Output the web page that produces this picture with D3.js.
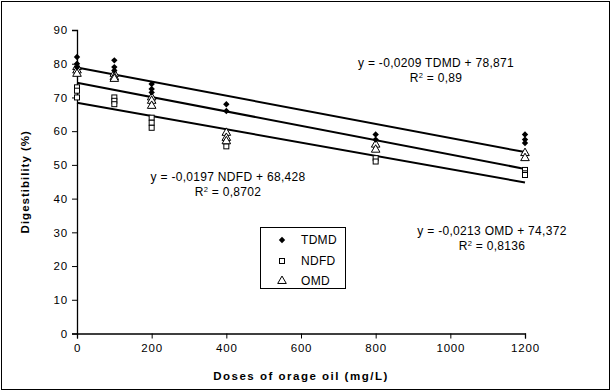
<!DOCTYPE html>
<html>
<head>
<meta charset="utf-8">
<script src="https://cdn.jsdelivr.net/npm/d3@7"></script>
<style>
  html, body { margin: 0; padding: 0; background: #fff; }
  svg { display: block; font-family: "Liberation Sans", Arial, sans-serif; }
</style>
</head>
<body>
<svg id="chart" width="611" height="391"></svg>
<script>
// Digestibility measurements by dose of orange oil (replicates per dose)
const doses = [0, 100, 200, 400, 800, 1200];
const tdmd = [[82, 80, 79], [81, 79, 78], [74, 72.5, 71.5], [68, 66], [59, 57.5], [59, 57.5, 56.5]];
const ndfd = [[73, 72, 70], [70, 69, 68], [64, 62.5, 61], [57, 55.5], [52, 51], [48.5, 47.5, 47]];
const omd  = [[79, 78, 77], [77, 76, 75.5], [70, 69, 67.5], [59.5, 58, 57], [56, 54.5], [53.5, 52]];

// Linear fits (slope, intercept) with their labels
const fits = [
  { name: "TDMD", slope: -0.0209, intercept: 78.871, eq: "y = -0,0209 TDMD + 78,871", r2: "0,89" },
  { name: "NDFD", slope: -0.0197, intercept: 68.428, eq: "y = -0,0197 NDFD + 68,428", r2: "0,8702" },
  { name: "OMD",  slope: -0.0213, intercept: 74.372, eq: "y = -0,0213 OMD + 74,372", r2: "0,8136" }
];

const xTicks = [0, 200, 400, 600, 800, 1000, 1200];
const yTicks = [0, 10, 20, 30, 40, 50, 60, 70, 80, 90];

const svg = d3.select("#chart");
const W = 611, H = 391;

// outer frame
svg.append("rect").attr("x", 1.5).attr("y", 1.5).attr("width", W - 3).attr("height", H - 3)
  .attr("fill", "none").attr("stroke", "#000").attr("stroke-width", 1);

const x = d3.scaleLinear().domain([0, 1200]).range([77, 525]);
const y = d3.scaleLinear().domain([0, 90]).range([333.5, 30]);

// axes
const xAxis = d3.axisBottom(x).tickValues(xTicks).tickSize(5).tickPadding(5).tickFormat(d3.format("d"));
const yAxis = d3.axisLeft(y).tickValues(yTicks).tickSize(5).tickPadding(4).tickFormat(d3.format("d"));

const gx = svg.append("g").attr("transform", `translate(0,${y(0)})`).call(xAxis);
const gy = svg.append("g").attr("transform", `translate(${x(0)},0)`).call(yAxis);
[gx, gy].forEach(g => {
  g.selectAll("path").attr("stroke", "#000").attr("stroke-width", 1.3);
  g.selectAll("line").attr("stroke", "#000").attr("stroke-width", 1);
  g.selectAll("text").attr("fill", "#000").attr("font-size", 11.5).attr("letter-spacing", 0.8)
    .attr("font-family", "Liberation Sans, Arial, sans-serif");
});

// axis titles
svg.append("text").attr("x", (x(0) + x(1200)) / 2).attr("y", 380)
  .attr("text-anchor", "middle").attr("font-size", 11.5).attr("font-weight", "bold")
  .attr("letter-spacing", 1.5)
  .text("Doses of orage oil (mg/L)");
svg.append("text").attr("transform", `translate(29,${(y(0) + y(90)) / 2}) rotate(-90)`)
  .attr("text-anchor", "middle").attr("font-size", 11.5).attr("font-weight", "bold")
  .attr("letter-spacing", 1)
  .text("Digestibility (%)");

// flatten replicates into points
function pts(series) {
  const out = [];
  series.forEach((vals, i) => vals.forEach(v => out.push({ dose: doses[i], v })));
  return out;
}

// marker shapes
const diamond = d3.symbol().type(d3.symbolDiamond2).size(26);
const triangle = d3.symbol().type(d3.symbolTriangle).size(32);

// regression lines
const lineGen = d3.line().x(d => x(d[0])).y(d => y(d[1]));
fits.forEach(f => {
  svg.append("path")
    .datum([[0, f.intercept], [1200, f.intercept + f.slope * 1200]])
    .attr("d", lineGen).attr("fill", "none").attr("stroke", "#000").attr("stroke-width", 2);
});

// NDFD open squares
svg.append("g").selectAll("rect").data(pts(ndfd)).join("rect")
  .attr("x", d => x(d.dose) - 2.5).attr("y", d => y(d.v) - 2.5)
  .attr("width", 5).attr("height", 5)
  .attr("fill", "#fff").attr("stroke", "#000").attr("stroke-width", 1);

// OMD open triangles
svg.append("g").selectAll("path").data(pts(omd)).join("path")
  .attr("d", triangle).attr("transform", d => `translate(${x(d.dose)},${y(d.v)})`)
  .attr("fill", "#fff").attr("stroke", "#000").attr("stroke-width", 1);

// TDMD filled diamonds
svg.append("g").selectAll("path").data(pts(tdmd)).join("path")
  .attr("d", diamond).attr("transform", d => `translate(${x(d.dose)},${y(d.v)})`)
  .attr("fill", "#000");

// equation labels
const eqPos = { TDMD: [436, 67], NDFD: [228, 181], OMD: [492, 235] };
fits.forEach(f => {
  const [cx, cy] = eqPos[f.name];
  svg.append("text").attr("x", cx).attr("y", cy).attr("text-anchor", "middle")
    .attr("font-size", 12).attr("letter-spacing", 0.3).text(f.eq);
  const t = svg.append("text").attr("x", cx).attr("y", cy + 15).attr("text-anchor", "middle")
    .attr("font-size", 12).attr("letter-spacing", 0.3);
  t.append("tspan").text("R");
  t.append("tspan").attr("font-size", 7.5).attr("dy", -4).text("2");
  t.append("tspan").attr("dy", 4).text(" = " + f.r2);
});

// legend
const legend = svg.append("g");
legend.append("rect").attr("x", 260.5).attr("y", 227.5).attr("width", 85).attr("height", 61)
  .attr("fill", "#fff").attr("stroke", "#000").attr("stroke-width", 1);
const legendItems = [
  { label: "TDMD", y: 240 },
  { label: "NDFD", y: 261 },
  { label: "OMD", y: 281 }
];
legendItems.forEach(it => {
  const mx = 282;
  if (it.label === "TDMD") {
    legend.append("path").attr("d", diamond).attr("transform", `translate(${mx},${it.y})`).attr("fill", "#000");
  } else if (it.label === "NDFD") {
    legend.append("rect").attr("x", mx - 2.5).attr("y", it.y - 2.5).attr("width", 5).attr("height", 5)
      .attr("fill", "#fff").attr("stroke", "#000");
  } else {
    legend.append("path").attr("d", triangle).attr("transform", `translate(${mx},${it.y})`)
      .attr("fill", "#fff").attr("stroke", "#000");
  }
  legend.append("text").attr("x", 301).attr("y", it.y + 4).attr("font-size", 12)
    .attr("letter-spacing", 0.3).text(it.label);
});
</script>
</body>
</html>
